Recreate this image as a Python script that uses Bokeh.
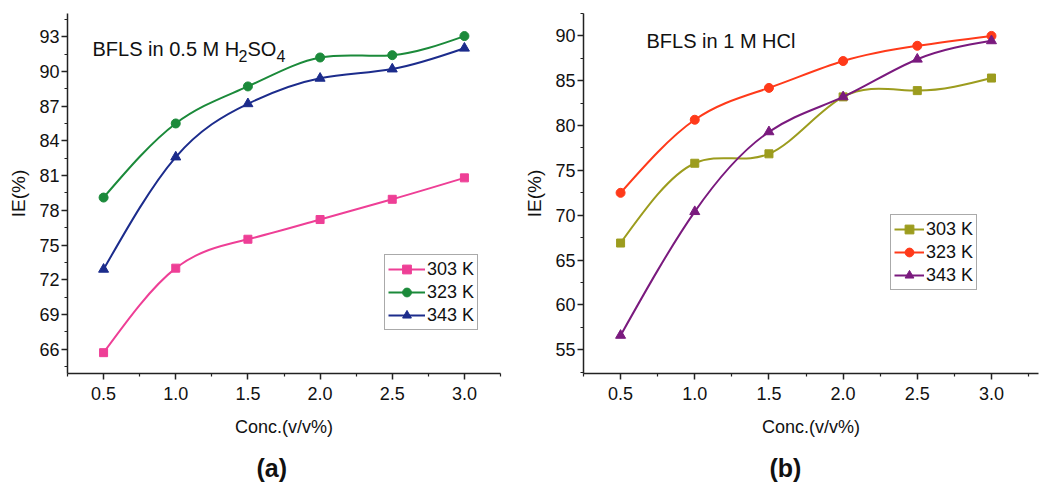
import numpy as np
from bokeh.plotting import figure
from bokeh.layouts import row
from bokeh.models import (ColumnDataSource, FixedTicker, Legend, LegendItem, Label, Title, Range1d)
from bokeh.embed import file_html
from bokeh.resources import INLINE

# ---------------- data ----------------
conc = [0.5, 1.0, 1.5, 2.0, 2.5, 3.0]

h2so4_303 = [65.7, 73.0, 75.5, 77.2, 78.95, 80.8]
h2so4_323 = [79.1, 85.5, 88.7, 91.2, 91.4, 93.05]
h2so4_343 = [72.9, 82.6, 87.2, 89.4, 90.2, 92.0]

hcl_303 = [66.9, 75.8, 76.85, 83.2, 83.9, 85.3]
hcl_323 = [72.5, 80.65, 84.2, 87.2, 88.9, 90.0]
hcl_343 = [56.6, 70.4, 79.3, 83.2, 87.4, 89.45]

series_labels = ["303 K", "323 K", "343 K"]
x_ticks = [0.5, 1.0, 1.5, 2.0, 2.5, 3.0]
x_minor = [0.25, 0.75, 1.25, 1.75, 2.25, 2.75, 3.25]
ya_ticks = [66, 69, 72, 75, 78, 81, 84, 87, 90, 93]
ya_minor = [64.5, 67.5, 70.5, 73.5, 76.5, 79.5, 82.5, 85.5, 88.5, 91.5, 94.5]
yb_ticks = [55, 60, 65, 70, 75, 80, 85, 90]
yb_minor = [52.5, 57.5, 62.5, 67.5, 72.5, 77.5, 82.5, 87.5, 92.5]

FONT = "Liberation Sans"


def spline_bezier(xs, ys):
    """Natural cubic spline through the data, expressed as Bezier segments."""
    x = np.asarray(xs, float)
    y = np.asarray(ys, float)
    n = len(x)
    h = np.diff(x)
    A = np.zeros((n, n))
    b = np.zeros(n)
    A[0, 0] = 1
    A[-1, -1] = 1
    for i in range(1, n - 1):
        A[i, i - 1] = h[i - 1]
        A[i, i] = 2 * (h[i - 1] + h[i])
        A[i, i + 1] = h[i]
        b[i] = 6 * ((y[i + 1] - y[i]) / h[i] - (y[i] - y[i - 1]) / h[i - 1])
    M = np.linalg.solve(A, b)
    x0, x1, y0, y1 = x[:-1], x[1:], y[:-1], y[1:]
    d = (y1 - y0) / h
    s0 = d - h * (2 * M[:-1] + M[1:]) / 6
    s1 = d + h * (M[:-1] + 2 * M[1:]) / 6
    return dict(x0=x0, y0=y0, x1=x1, y1=y1,
                cx0=x0 + h / 3, cy0=y0 + h / 3 * s0,
                cx1=x1 - h / 3, cy1=y1 - h / 3 * s1)


lab_kw = dict(x_units="screen", y_units="screen", text_font=FONT,
              text_color="#111111", text_baseline="alphabetic")


def make_panel(width, height, borders, xr, yr, yticks, yminor, series, colors,
               legend_loc, glyph_w, tag, tag_offset):
    bl, br, bt, bb = borders
    p = figure(width=width, height=height, output_backend="svg", toolbar_location=None,
               x_range=Range1d(*xr), y_range=Range1d(*yr),
               min_border_left=bl, min_border_right=br, min_border_top=bt, min_border_bottom=bb)
    p.outline_line_color = None
    p.xgrid.grid_line_color = None
    p.ygrid.grid_line_color = None
    p.background_fill_color = "white"
    p.border_fill_color = "white"

    for ax, ticks, minor in ((p.xaxis[0], x_ticks, x_minor), (p.yaxis[0], yticks, yminor)):
        ax.ticker = FixedTicker(ticks=ticks, minor_ticks=minor)
        ax.axis_line_color = "#222222"
        ax.axis_line_width = 1.5
        ax.major_tick_line_color = "#222222"
        ax.minor_tick_line_color = "#222222"
        ax.major_tick_line_width = 1.5
        ax.minor_tick_line_width = 1.2
        ax.major_tick_in = 0
        ax.major_tick_out = 6
        ax.minor_tick_in = 0
        ax.minor_tick_out = 3
        ax.major_label_text_font = FONT
        ax.major_label_text_font_size = "18px"
        ax.major_label_text_color = "#111111"
        ax.axis_label_text_font = FONT
        ax.axis_label_text_font_style = "normal"
        ax.axis_label_text_color = "#111111"

    p.xaxis.axis_label = "Conc.(v/v%)"
    p.xaxis.axis_label_text_font_size = "18px"
    p.xaxis.major_label_standoff = 7
    p.xaxis.axis_label_standoff = 14
    p.xaxis.major_label_overrides = {t: f"{t:.1f}" for t in x_ticks}

    p.yaxis.axis_label = "IE(%)"
    p.yaxis.axis_label_text_font_size = "19px"
    p.yaxis.major_label_standoff = 2
    p.yaxis.axis_label_standoff = 7

    markers = ["square", "circle", "triangle"]
    msizes = [8, 9, 10]
    items = []
    for vals, col, mk, ms, lab in zip(series, colors, markers, msizes, series_labels):
        src = ColumnDataSource(spline_bezier(conc, vals))
        p.bezier(x0="x0", y0="y0", x1="x1", y1="y1", cx0="cx0", cy0="cy0",
                 cx1="cx1", cy1="cy1", source=src, line_color=col, line_width=2)
        sr = p.scatter(conc, vals, marker=mk, size=ms, fill_color=col, line_color=col)
        lr = p.line(conc, vals, line_color=col, line_width=2)
        lr.visible = False  # only used for the legend swatch
        items.append(LegendItem(label=lab, renderers=[lr, sr]))

    leg = Legend(items=items, location=legend_loc)
    leg.label_text_font = FONT
    leg.label_text_font_size = "18px"
    leg.label_text_color = "#111111"
    leg.glyph_width = glyph_w
    leg.glyph_height = 22
    leg.label_height = 22
    leg.label_standoff = 2
    leg.padding = 3
    leg.spacing = 1
    leg.margin = 0
    leg.border_line_color = "#555555"
    leg.border_line_width = 1
    leg.background_fill_color = "white"
    leg.background_fill_alpha = 1.0
    p.add_layout(leg, "center")

    t = Title(text=tag, align="left", text_font=FONT, text_font_size="25px",
              text_font_style="bold", text_color="#111111", standoff=24, offset=tag_offset)
    p.add_layout(t, "below")
    return p


# ---------------- panel (a) ----------------
pa = make_panel(521, 493, (67, 21, 13, 118), (0.25, 3.25), (63.9, 95.0),
                ya_ticks, ya_minor, [h2so4_303, h2so4_323, h2so4_343],
                ["#EE3F96", "#1B8A3A", "#1C2C8C"], (317, 43), 37, "(a)", 189)
pa.add_layout(Label(x=25, y=325, text="BFLS in 0.5 M H", text_font_size="20px", **lab_kw))
pa.add_layout(Label(x=171, y=318, text="2", text_font_size="16px", **lab_kw))
pa.add_layout(Label(x=180, y=325, text="SO", text_font_size="20px", **lab_kw))
pa.add_layout(Label(x=209, y=318, text="4", text_font_size="16px", **lab_kw))

# ---------------- panel (b) ----------------
pb = make_panel(522, 493, (57, 5, 4, 120), (0.25, 3.317), (52.35, 92.5),
                yb_ticks, yb_minor, [hcl_303, hcl_323, hcl_343],
                ["#9C9C1E", "#FF3A1A", "#7A1A7E"], (307, 83), 30, "(b)", 186)
pb.add_layout(Label(x=63, y=333, text="BFLS in 1 M HCl", text_font_size="20px", **lab_kw))

layout = row(pa, pb)
open("out.html", "w").write(file_html(layout, INLINE))
